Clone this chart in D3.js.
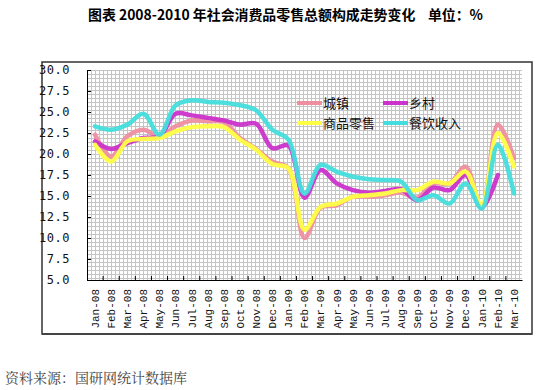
<!DOCTYPE html>
<html><head><meta charset="utf-8">
<script src="https://cdn.jsdelivr.net/npm/d3@7"></script>
<style>body{margin:0;background:#fff;}svg{display:block;}</style>
</head><body>
<svg id="c" width="560" height="390"></svg>
<script>
const months = ["Jan-08","Feb-08","Mar-08","Apr-08","May-08","Jun-08","Jul-08","Aug-08","Sep-08","Oct-08","Nov-08","Dec-08",
"Jan-09","Feb-09","Mar-09","Apr-09","May-09","Jun-09","Jul-09","Aug-09","Sep-09","Oct-09","Nov-09","Dec-09",
"Jan-10","Feb-10","Mar-10"];
const yTicks = [5,7.5,10,12.5,15,17.5,20,22.5,25,27.5,30];
const seriesNames = ["城镇","乡村","商品零售","餐饮收入"];
const urban = [22.3,19.7,22.1,22.9,22.1,23.3,24.0,23.9,23.8,21.9,20.6,19.1,18.3,10.0,13.6,13.9,14.9,14.9,15.1,15.4,14.8,16.5,16.5,18.5,13.5,23.5,19.5];
const rural = [21.5,20.6,21.3,21.9,22.1,24.8,24.6,24.3,24.0,23.5,23.6,20.7,21.0,14.8,18.1,16.5,15.7,15.4,15.6,15.8,14.5,16.0,15.7,17.5,13.7,17.5,null];
const retail = [21.1,19.1,21.5,21.8,21.9,22.7,23.2,23.3,23.2,21.7,20.5,18.8,18.3,11.0,13.7,14.1,14.9,15.1,15.3,15.7,15.7,16.7,16.5,17.9,13.9,22.5,18.5];
const catering = [23.3,22.9,23.5,24.8,22.3,25.8,26.4,26.2,26.1,25.8,25.2,22.9,21.7,15.3,18.7,17.9,17.3,17.0,16.9,16.7,14.5,15.1,14.1,16.5,13.5,21.1,15.3];
const colors = ["#ee8fa0","#cc33cc","#ffff44","#44dddd"];

const svg = d3.select("#c");
const L=87,R=522,T=70,B=280;

// outer frame
svg.append("rect").attr("x",42).attr("y",62).attr("width",490).attr("height",272)
  .attr("fill","#fff").attr("stroke","#333").attr("stroke-width",1.5);
svg.append("line").attr("x1",42).attr("x2",532).attr("y1",334).attr("y2",334).attr("stroke","#444").attr("stroke-width",2);

// grid pattern
const defs = svg.append("defs");
const pat = defs.append("pattern").attr("id","grid").attr("width",4).attr("height",4).attr("patternUnits","userSpaceOnUse")
  .attr("x",L).attr("y",T);
pat.append("rect").attr("width",4).attr("height",4).attr("fill","#fff");
pat.append("path").attr("d","M0,0.5H4M0.5,0V4").attr("stroke","#c4c4c4").attr("stroke-width",1);
svg.append("rect").attr("x",L).attr("y",T).attr("width",R-L).attr("height",B-T).attr("fill","url(#grid)");

const x = d3.scaleBand().domain(months).range([L,R]);
const y = d3.scaleLinear().domain([5,30]).range([B,T]);

// y axis
const yAxis = svg.append("g").attr("transform",`translate(${L},0)`)
  .call(d3.axisLeft(y).tickValues(yTicks).tickSize(-4).tickPadding(17).tickFormat(d3.format(".1f")));
yAxis.select(".domain").attr("stroke","#000");
yAxis.selectAll("text").attr("font-family","'DejaVu Sans Mono', monospace").attr("font-size",12).attr("fill","#111")
  .attr("letter-spacing","0.5px");

// x axis
const xAxis = svg.append("g").attr("transform",`translate(0,${B})`)
  .call(d3.axisBottom(x).tickSize(0).tickPadding(0));
xAxis.select(".domain").attr("stroke","#000");
xAxis.selectAll("text").attr("font-family","'Liberation Mono', monospace").attr("font-size",11).attr("fill","#111")
  .attr("text-anchor","end").attr("dy","0.35em").attr("transform","translate(0,9) rotate(-90)");
// boundary ticks
svg.append("g").selectAll("line").data(months.slice(1)).join("line")
  .attr("x1",d=>x(d)).attr("x2",d=>x(d)).attr("y1",B).attr("y2",B-4).attr("stroke","#000");

// lines
const line = d3.line().defined(d=>d!=null).x((d,i)=>x(months[i])+x.bandwidth()/2).y(d=>y(d)).curve(d3.curveCatmullRom.alpha(0.5));
[urban,rural,retail,catering].forEach((s,k)=>{
  svg.append("path").datum(s).attr("d",line).attr("fill","none").attr("stroke",colors[k])
    .attr("stroke-width",4.5).attr("stroke-linejoin","round").attr("stroke-linecap","round").attr("opacity",0.95);
});

// legend
const lg = svg.append("g");
const lpos = [[297,103],[383,103],[297,123],[383,123]];
seriesNames.forEach((n,k)=>{
  lg.append("line").attr("x1",lpos[k][0]).attr("x2",lpos[k][0]+25).attr("y1",lpos[k][1]).attr("y2",lpos[k][1])
    .attr("stroke",colors[k]).attr("stroke-width",4);
  lg.append("text").attr("x",lpos[k][0]+26).attr("y",lpos[k][1]).attr("dy","0.36em")
    .attr("font-family","'Noto Sans CJK SC'").attr("font-size",13).attr("fill","#111").text(n);
});

// title
svg.append("text").attr("x",88).attr("y",15).attr("dy","0.36em")
  .attr("font-family","'Noto Sans CJK SC'").attr("font-weight","bold").attr("font-size",14).attr("fill","#000")
  .attr("textLength",395).attr("lengthAdjust","spacingAndGlyphs")
  .text("图表 2008-2010 年社会消费品零售总额构成走势变化\u00a0\u00a0\u00a0\u00a0单位：%");

// source
svg.append("text").attr("x",5).attr("y",378).attr("dy","0.36em")
  .attr("font-family","'Noto Serif CJK SC','Noto Sans CJK SC'").attr("font-size",14).attr("fill","#444")
  .text("资料来源：国研网统计数据库");
</script>
</body></html>
